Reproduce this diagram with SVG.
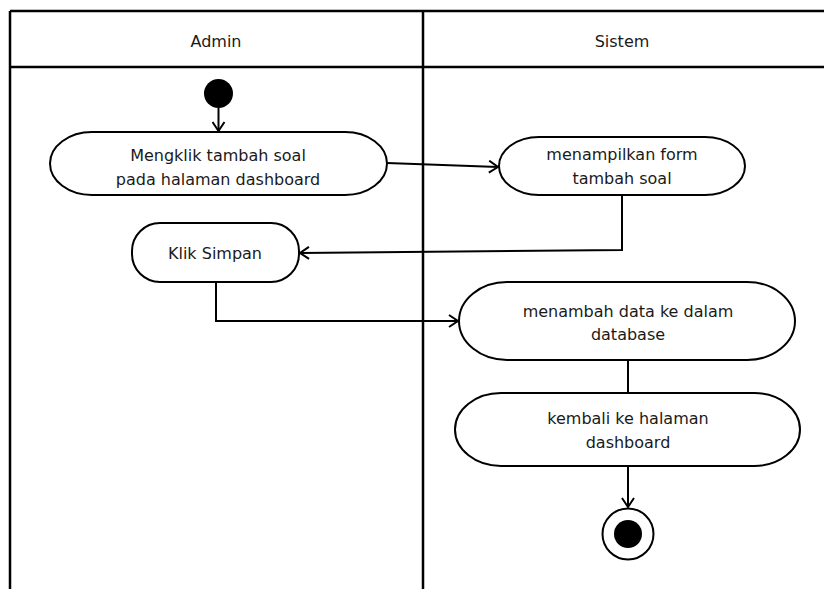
<svg xmlns="http://www.w3.org/2000/svg" width="824" height="589" viewBox="0 0 824 589">
  <defs>
    <style>
      .lane { fill: none; stroke: #000; stroke-width: 2.5; }
      .node { fill: #fff; stroke: #000; stroke-width: 2; }
      .lbl { font-family: "DejaVu Sans", Verdana, sans-serif; font-size: 16px; fill: #1a1a1a; text-anchor: middle; }
      .edge { fill: none; stroke: #000; stroke-width: 2; }
    </style>
    <marker id="open" markerWidth="12" markerHeight="14" refX="10" refY="7" orient="auto" markerUnits="userSpaceOnUse">
      <path d="M1,1 L10,7 L1,13" fill="none" stroke="#000" stroke-width="2"/>
    </marker>
  </defs>

  <rect width="824" height="589" fill="#fff"/>

  <!-- swimlanes -->
  <g id="lanes">
    <path class="lane" d="M10,11 H824 M10,67 H824 M10,11 V589 M423,11 V589"/>
    <text class="lbl" x="216" y="47">Admin</text>
    <text class="lbl" x="622" y="47">Sistem</text>
  </g>

  <!-- connectors -->
  <g id="connectors">
    <path class="edge" d="M218.5,108 V131" marker-end="url(#open)"/>
    <path class="edge" d="M387,163 L498,167" marker-end="url(#open)"/>
    <path class="edge" d="M622,195 V250 L300,253" marker-end="url(#open)"/>
    <path class="edge" d="M216,282 V321 H458" marker-end="url(#open)"/>
    <path class="edge" d="M628,360 V393"/>
    <path class="edge" d="M628,466 V507" marker-end="url(#open)"/>
  </g>

  <g id="start">
    <circle cx="218.5" cy="93.5" r="14.5" fill="#000"/>
  </g>

  <g id="mengklik">
    <rect class="node" x="50" y="132" width="337" height="63" rx="42" ry="31.5"/>
    <text class="lbl" x="218" y="161">Mengklik tambah soal</text>
    <text class="lbl" x="218" y="185">pada halaman dashboard</text>
  </g>

  <g id="menampilkan">
    <rect class="node" x="499" y="137" width="246" height="58" rx="40" ry="29"/>
    <text class="lbl" x="622" y="160">menampilkan form</text>
    <text class="lbl" x="622" y="184">tambah soal</text>
  </g>

  <g id="simpan">
    <rect class="node" x="132" y="223" width="167" height="59" rx="28" ry="28"/>
    <text class="lbl" x="215" y="259">Klik Simpan</text>
  </g>

  <g id="menambah">
    <rect class="node" x="459" y="282" width="336" height="78" rx="48" ry="39"/>
    <text class="lbl" x="628" y="317">menambah data ke dalam</text>
    <text class="lbl" x="628" y="340">database</text>
  </g>

  <g id="kembali">
    <rect class="node" x="455" y="393" width="345" height="73" rx="46" ry="36.5"/>
    <text class="lbl" x="628" y="424">kembali ke halaman</text>
    <text class="lbl" x="628" y="448">dashboard</text>
  </g>

  <g id="end">
    <circle cx="628" cy="534" r="25.5" fill="#fff" stroke="#000" stroke-width="2"/>
    <circle cx="628" cy="534" r="14" fill="#000"/>
  </g>
</svg>
